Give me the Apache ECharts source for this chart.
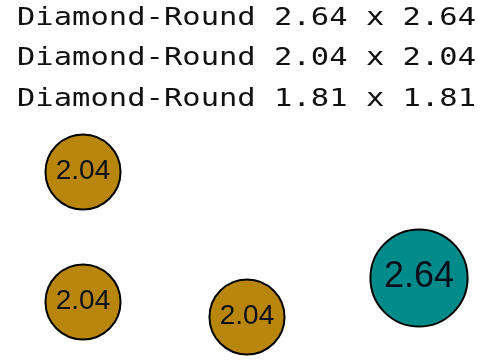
<!DOCTYPE html>
<html>
<head>
<meta charset="utf-8">
<script src="https://cdn.jsdelivr.net/npm/echarts@6/dist/echarts.min.js"></script>
<style>html,body{margin:0;padding:0;background:#fff;}#c{width:480px;height:360px;}</style>
</head>
<body>
<div id="c"></div>
<script>
const headerLines = ["Diamond-Round 2.64 x 2.64", "Diamond-Round 2.04 x 2.04", "Diamond-Round 1.81 x 1.81"];
const xValues = [83, 83, 247, 419];
const yValues = [172, 302, 317, 278];
const sizes = [2.04, 2.04, 2.04, 2.64];
const pointColors = ["#B8860B", "#B8860B", "#B8860B", "#008B8B"];

const chart = echarts.init(document.getElementById('c'), null, {renderer: 'canvas'});
const data = xValues.map((x, i) => ({
  value: [x, yValues[i], sizes[i]],
  itemStyle: {color: pointColors[i]},
  label: {fontSize: Math.round(sizes[i] * 13.7)}
}));
const graphics = headerLines.map((t, i) => ({
  type: 'text',
  x: 17,
  y: 18.5 + i * 40.3,
  scaleX: 1.22,
  scaleY: 1,
  style: {
    text: t,
    font: '25px "DejaVu Sans Mono"',
    fill: '#111',
    textAlign: 'left',
    textVerticalAlign: 'middle',
    verticalAlign: 'middle'
  }
}));
chart.setOption({
  animation: false,
  backgroundColor: '#fff',
  grid: {left: 0, right: 0, top: 0, bottom: 0},
  xAxis: {type: 'value', min: 0, max: 480, show: false},
  yAxis: {type: 'value', min: 0, max: 360, inverse: true, show: false},
  graphic: graphics,
  series: [{
    type: 'scatter',
    data: data,
    symbol: 'circle',
    symbolSize: v => v[2] * 36.8,
    itemStyle: {borderColor: '#000', borderWidth: 2, opacity: 1},
    label: {
      show: true,
      position: 'inside',
      offset: [0, -1],
      formatter: p => p.value[2].toFixed(2),
      fontFamily: '"Liberation Sans", Arial, sans-serif',
      color: '#0a0f1e'
    }
  }]
});
</script>
</body>
</html>
